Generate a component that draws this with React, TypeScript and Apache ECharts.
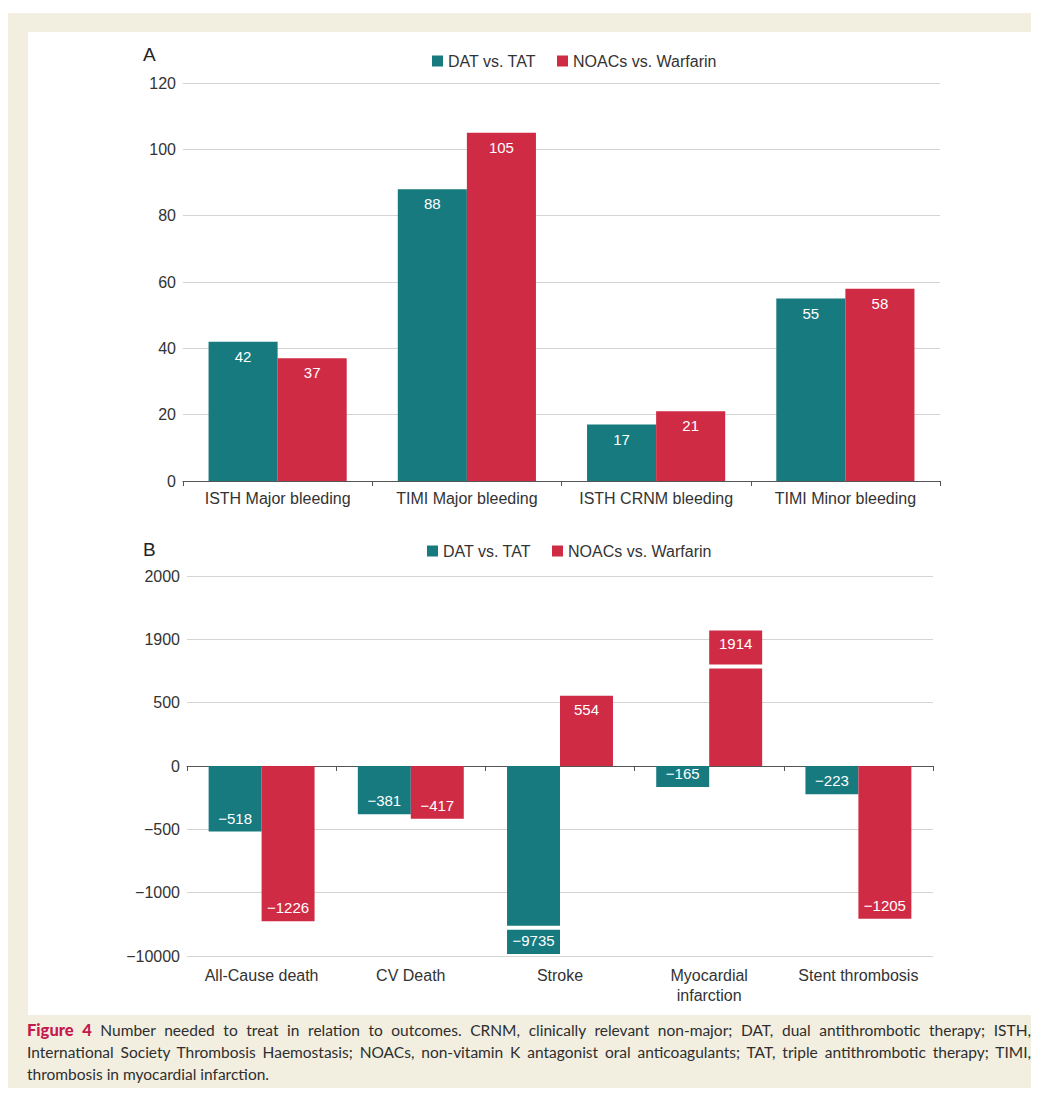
import React, { useEffect, useRef } from "react";
import * as echarts from "echarts";

// ---------- Panel A data ----------
const categoriesA = [
  "ISTH Major bleeding",
  "TIMI Major bleeding",
  "ISTH CRNM bleeding",
  "TIMI Minor bleeding",
];
const datVsTatA = [42, 88, 17, 55];
const noacsVsWarfarinA = [37, 105, 21, 58];

// ---------- Panel B data ----------
const categoriesB = [
  "All-Cause death",
  "CV Death",
  "Stroke",
  "Myocardial\ninfarction",
  "Stent thrombosis",
];
const datVsTatB = [-518, -381, -9735, -165, -223];
const noacsVsWarfarinB = [-1226, -417, 554, 1914, -1205];
// tick labels of the broken axis, bottom to top, equally spaced
const tickLabelsB = ["−10000", "−1000", "−500", "0", "500", "1900", "2000"];

const seriesNames = ["DAT vs. TAT", "NOACs vs. Warfarin"];

const TEAL = "#177a7f";
const RED = "#d02b45";
const FONT = "'Liberation Sans', Arial, Helvetica, sans-serif";

// broken axis: linear from -1500..1000, upper break 1900..2000, lower break near -10000
const toAxis = (v: number) => {
  if (v >= 1900) return 1000 + (v - 1900) * 5;
  if (v < -1500) return -1500 + (v + 10000) * 0.057;
  return v;
};
const fmt = (v: number) => (v < 0 ? "−" + Math.abs(v) : String(v));

// bar breaks (category index, position on the axis scale, series index)
const breaksB = [
  [3, 786, 1],
  [2, -1277, 0],
];

const axisLabelStyle = { fontSize: 16, color: "#333", fontFamily: FONT };

function buildOption() {
  const barLabel = {
    show: true,
    color: "#fff",
    fontSize: 15,
    fontFamily: FONT,
    distance: 7,
  };
  const mkB = (vals: number[]) =>
    vals.map((v) => ({
      value: toAxis(v),
      label: { position: v < 0 ? "insideBottom" : "insideTop" },
    }));
  const legendBase = {
    padding: 0,
    icon: "rect",
    itemWidth: 11,
    itemHeight: 11,
    itemGap: 21,
    data: seriesNames,
    textStyle: { fontSize: 16, color: "#333", fontFamily: FONT },
  };

  return {
    animation: false,
    backgroundColor: "#ffffff",
    textStyle: { fontFamily: FONT },
    graphic: [
      { type: "text", left: 115, top: 13, style: { text: "A", fontSize: 19, fill: "#222", fontFamily: FONT } },
      { type: "text", left: 115, top: 508, style: { text: "B", fontSize: 19, fill: "#222", fontFamily: FONT } },
    ],
    legend: [
      { ...legendBase, left: 404, top: 21 },
      { ...legendBase, left: 399, top: 511 },
    ],
    grid: [
      { left: 155, width: 757, top: 51, height: 398 },
      { left: 159, width: 746, top: 544, height: 380 },
    ],
    xAxis: [
      {
        type: "category",
        gridIndex: 0,
        data: categoriesA,
        axisLine: { lineStyle: { color: "#555", width: 1 } },
        axisTick: { show: true, length: 5, lineStyle: { color: "#555" } },
        axisLabel: { ...axisLabelStyle, margin: 9, interval: 0 },
      },
      {
        type: "category",
        gridIndex: 1,
        data: categoriesB,
        axisLine: { onZero: true, lineStyle: { color: "#555", width: 1 } },
        axisTick: { show: true, length: 5, lineStyle: { color: "#555" } },
        axisLabel: { show: false },
      },
      {
        type: "category",
        gridIndex: 1,
        position: "bottom",
        data: categoriesB,
        axisLine: { show: false, onZero: false },
        axisTick: { show: false },
        axisLabel: { ...axisLabelStyle, margin: 9, lineHeight: 20, interval: 0 },
      },
    ],
    yAxis: [
      {
        type: "value",
        gridIndex: 0,
        min: 0,
        max: 120,
        interval: 20,
        axisLine: { show: false },
        axisTick: { show: false },
        splitLine: { lineStyle: { color: "#d4d4d4", width: 1 } },
        axisLabel: { ...axisLabelStyle, margin: 7 },
      },
      {
        type: "value",
        gridIndex: 1,
        min: -1500,
        max: 1500,
        interval: 500,
        axisLine: { show: false },
        axisTick: { show: false },
        splitLine: { lineStyle: { color: "#d4d4d4", width: 1 } },
        axisLabel: {
          ...axisLabelStyle,
          margin: 7,
          formatter: (val: number) => tickLabelsB[Math.round((val + 1500) / 500)],
        },
      },
    ],
    series: [
      {
        name: seriesNames[0],
        type: "bar",
        xAxisIndex: 0,
        yAxisIndex: 0,
        data: datVsTatA,
        itemStyle: { color: TEAL },
        barGap: "0%",
        barCategoryGap: "27%",
        label: { ...barLabel, position: "insideTop" },
      },
      {
        name: seriesNames[1],
        type: "bar",
        xAxisIndex: 0,
        yAxisIndex: 0,
        data: noacsVsWarfarinA,
        itemStyle: { color: RED },
        barGap: "0%",
        barCategoryGap: "27%",
        label: { ...barLabel, position: "insideTop" },
      },
      {
        name: seriesNames[0],
        type: "bar",
        xAxisIndex: 1,
        yAxisIndex: 1,
        data: mkB(datVsTatB),
        itemStyle: { color: TEAL },
        barGap: "0%",
        barCategoryGap: "29%",
        label: { ...barLabel, distance: 6, formatter: (p: any) => fmt(datVsTatB[p.dataIndex]) },
      },
      {
        name: seriesNames[1],
        type: "bar",
        xAxisIndex: 1,
        yAxisIndex: 1,
        data: mkB(noacsVsWarfarinB),
        itemStyle: { color: RED },
        barGap: "0%",
        barCategoryGap: "29%",
        label: { ...barLabel, distance: 6, formatter: (p: any) => fmt(noacsVsWarfarinB[p.dataIndex]) },
      },
      {
        type: "custom",
        xAxisIndex: 1,
        yAxisIndex: 1,
        silent: true,
        z: 5,
        encode: { x: 0, y: 1 },
        data: breaksB,
        renderItem: (_params: any, api: any) => {
          const cat = api.value(0);
          const at = api.value(1);
          const s = api.value(2);
          const band = api.size([1, 0])[0];
          const bw = (band * (1 - 0.29)) / 2;
          const pt = api.coord([cat, at]);
          const x = s === 0 ? pt[0] - bw : pt[0];
          return {
            type: "rect",
            shape: { x: x - 1, y: pt[1] - 2, width: bw + 2, height: 4 },
            style: { fill: "#ffffff" },
          };
        },
      },
    ],
  };
}

const captionLines = [
  " Number needed to treat in relation to outcomes. CRNM, clinically relevant non-major; DAT, dual antithrombotic therapy; ISTH,",
  "International Society Thrombosis Haemostasis; NOACs, non-vitamin K antagonist oral anticoagulants; TAT, triple antithrombotic therapy; TIMI,",
  "thrombosis in myocardial infarction.",
];

export default function App() {
  const ref = useRef<HTMLDivElement>(null);
  useEffect(() => {
    document.body.style.overflow = "hidden";
    if (!ref.current) return;
    const chart = echarts.init(ref.current, null, { renderer: "svg" });
    chart.setOption(buildOption() as any);
    return () => chart.dispose();
  }, []);

  const lineStyle: React.CSSProperties = {
    height: 22,
    lineHeight: "22px",
    textAlign: "justify",
    textAlignLast: "justify" as any,
    overflow: "hidden",
    whiteSpace: "normal",
  };

  return (
    <div
      style={{
        position: "relative",
        top: 5,
        width: 1031,
        height: 1080,
        background: "#f2efe1",
      }}
    >
      <div
        ref={ref}
        style={{ position: "absolute", left: 20, top: 19, width: 1005, height: 983, background: "#fff" }}
      />
      <div
        style={{
          position: "absolute",
          left: 19,
          top: 1006,
          width: 1004,
          fontFamily: "Lato, 'Open Sans', sans-serif",
          fontSize: 15.5,
          color: "#2e2e2e",
        }}
      >
        <div style={lineStyle}>
          <span style={{ color: "#c41a4e", fontWeight: 900, fontSize: 16.5 }}>Figure 4</span>
          {captionLines[0]}
        </div>
        <div style={lineStyle}>{captionLines[1]}</div>
        <div style={{ ...lineStyle, textAlign: "left", textAlignLast: "left" as any }}>{captionLines[2]}</div>
      </div>
    </div>
  );
}
